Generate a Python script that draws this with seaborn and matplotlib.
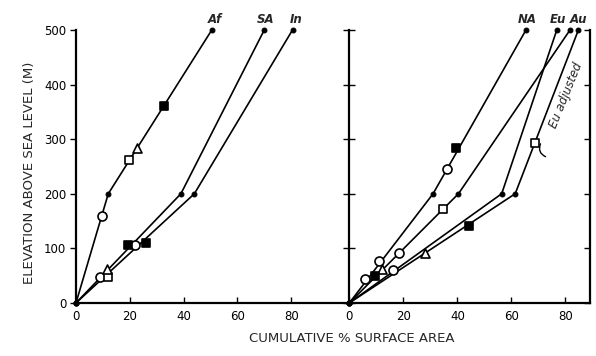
import matplotlib
matplotlib.use("Agg")
import matplotlib.pyplot as plt
import seaborn as sns

# elevation levels of the curve vertices (m)
elev = [0, 200, 500]

# cumulative % surface area at each level
af_x = [0, 12, 50.5]
sa_x = [0, 39, 70]
in_x = [0, 44, 80.5]
na_x = [0, 31, 65.4]
mid_x = [0, 40.4, 81.7]
eu_x = [0, 56.4, 76.8]
au_x = [0, 61.4, 84.8]

# plotted comparison points, left panel
l_circle_x = [9.5, 8.9, 21.9]
l_circle_y = [160, 47, 106]
l_square_x = [19.8, 11.8]
l_square_y = [261, 48]
l_tri_x = [22.8, 11.4]
l_tri_y = [283, 62]
l_fill_x = [32.8, 19.4, 26]
l_fill_y = [361, 106, 109]

# plotted comparison points, right panel
r_circle_x = [36.1, 18.5, 11.1, 16.1, 5.8]
r_circle_y = [245, 91, 77, 60, 43]
r_square_x = [34.6, 68.8]
r_square_y = [172, 292]
r_tri_x = [28, 12]
r_tri_y = [91, 62]
r_fill_x = [39.5, 44.4, 9.5]
r_fill_y = [283, 141, 50]

xticks = [0, 20, 40, 60, 80]
yticks = [0, 100, 200, 300, 400, 500]

sns.set_theme(style="ticks")
plt.rcParams['font.family'] = 'DejaVu Sans'

fig = plt.figure(figsize=(5.96, 3.56), dpi=100)
ax1 = fig.add_axes([0.1275, 0.149, 0.4586, 0.767])
ax2 = fig.add_axes([0.5861, 0.149, 0.4039, 0.767])


def draw_curves(ax, curves):
    for xs in curves:
        sns.lineplot(x=xs, y=elev, ax=ax, color='black', lw=1.2, marker='o', ms=3.5,
                     mec='black', mfc='black', sort=False, estimator=None, clip_on=False)


def draw_points(ax, xs, ys, marker, face, size):
    sns.scatterplot(x=xs, y=ys, ax=ax, marker=marker, s=size, facecolor=face,
                    edgecolor='black', linewidth=1.2, zorder=5, clip_on=False)


draw_curves(ax1, [af_x, sa_x, in_x])
draw_points(ax1, l_circle_x, l_circle_y, 'o', 'white', 42)
draw_points(ax1, l_square_x, l_square_y, 's', 'white', 36)
draw_points(ax1, l_tri_x, l_tri_y, '^', 'white', 42)
draw_points(ax1, l_fill_x, l_fill_y, 's', 'black', 36)

draw_curves(ax2, [na_x, mid_x, eu_x, au_x])
draw_points(ax2, r_circle_x, r_circle_y, 'o', 'white', 42)
draw_points(ax2, r_square_x, r_square_y, 's', 'white', 36)
draw_points(ax2, r_tri_x, r_tri_y, '^', 'white', 42)
draw_points(ax2, r_fill_x, r_fill_y, 's', 'black', 36)

for ax, xmax in [(ax1, 101.6), (ax2, 89.1)]:
    ax.set_xlim(0, xmax)
    ax.set_ylim(0, 500)
    ax.set_xticks(xticks)
    ax.set_yticks(yticks)
    ax.spines['top'].set_visible(False)
    for s in ax.spines.values():
        s.set_linewidth(1.6)
        s.set_color('black')
    ax.tick_params(axis='x', direction='in', length=4, width=1, labelsize=8.5, pad=5, colors='black')
    ax.set_xlabel('')
    ax.set_ylabel('')

ax1.spines['right'].set_visible(False)
ax1.tick_params(axis='y', direction='out', length=4, width=1, labelsize=8.5, pad=3, colors='black')
ax2.spines['right'].set_visible(False)
ax2.tick_params(axis='y', direction='inout', length=8, width=1, labelleft=False, right=False, colors='black')

# right frame of the second panel, ticks pointing inward only
ax3 = ax2.twinx()
ax3.set_ylim(0, 500)
ax3.set_yticks(yticks)
ax3.spines['top'].set_visible(False)
ax3.spines['left'].set_visible(False)
ax3.spines['bottom'].set_visible(False)
ax3.spines['right'].set_linewidth(1.6)
ax3.spines['right'].set_color('black')
ax3.tick_params(axis='y', direction='in', length=4, width=1, labelright=False, colors='black')

lab = dict(fontsize=8.5, fontstyle='italic', fontweight='bold', ha='center', va='bottom')
ax1.text(51.7, 507, 'Af', **lab)
ax1.text(70.6, 507, 'SA', **lab)
ax1.text(81.9, 507, 'In', **lab)
ax2.text(65.7, 507, 'NA', **lab)
ax2.text(77.3, 507, 'Eu', **lab)
ax2.text(84.7, 507, 'Au', **lab)

ax2.text(80.3, 380, 'Eu adjusted', fontsize=8.5, fontstyle='italic', rotation=68,
         ha='center', va='center', rotation_mode='anchor')
ax2.annotate('', xy=(71.2, 296), xytext=(73.6, 266),
             arrowprops=dict(arrowstyle='-', connectionstyle='arc3,rad=-0.6', lw=1, color='black'))

fig.text(0.05, 0.514, 'ELEVATION ABOVE SEA LEVEL (M)', rotation=90, ha='center', va='center',
         fontsize=9.5)
fig.text(0.59, 0.05, 'CUMULATIVE % SURFACE AREA', ha='center', va='center', fontsize=9.5)

fig.savefig('out.png', dpi=100, facecolor='white')
